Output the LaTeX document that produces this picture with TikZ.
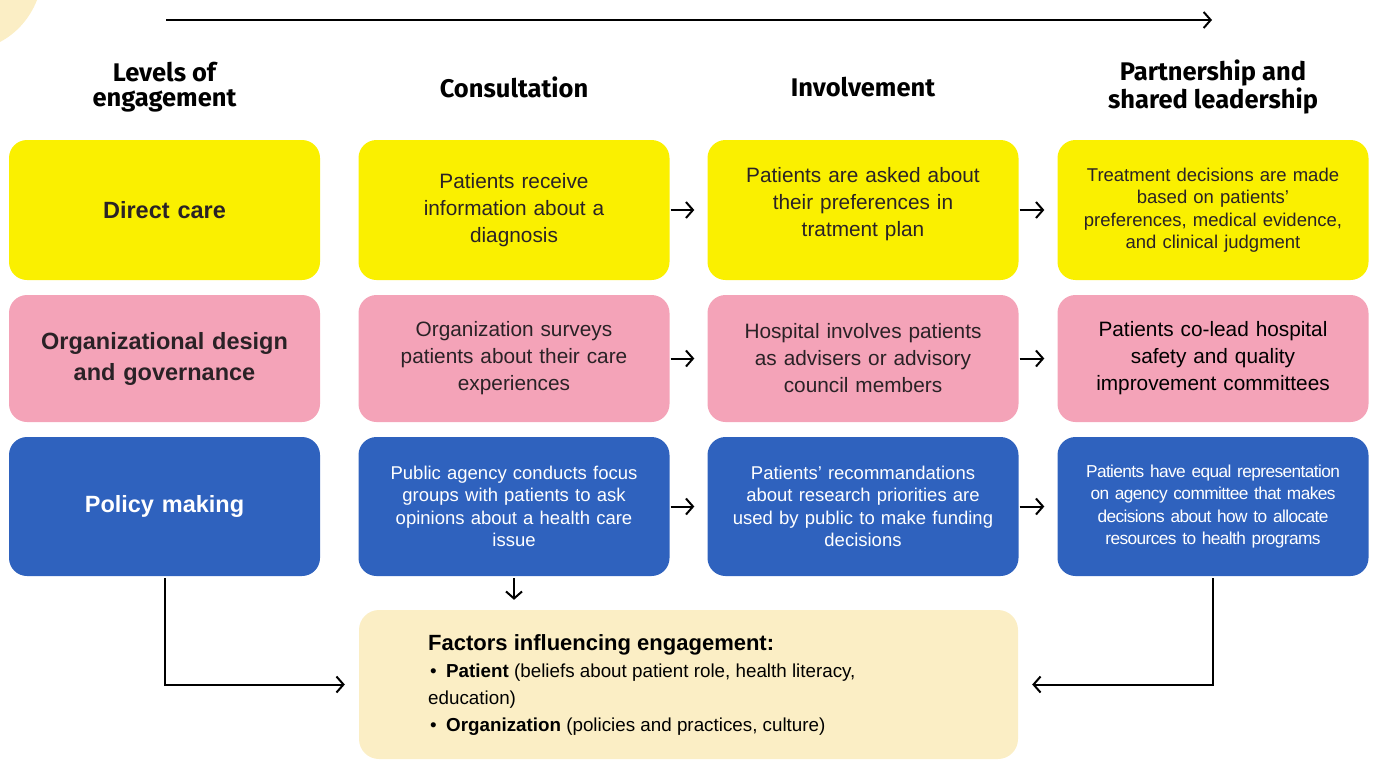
\documentclass[tikz,border=0pt]{standalone}
\usepackage{fontspec}
\setmainfont{Liberation Sans}
\newfontfamily\headfont{Fira Sans}
\usetikzlibrary{arrows.meta}

\definecolor{celly}{HTML}{FAF000}
\definecolor{cellp}{HTML}{F4A3B8}
\definecolor{cellb}{HTML}{2F62BE}
\definecolor{cream}{HTML}{FBEEC5}
\definecolor{ink}{HTML}{2A2226}

\tikzset{
  cell/.style={rounded corners=18pt, minimum width=311pt, text width=300pt,
    align=center, inner sep=0pt, text=ink},
  rowa/.style={cell, fill=celly, minimum height=140pt},
  rowb/.style={cell, fill=cellp, minimum height=127pt},
  rowc/.style={cell, fill=cellb, minimum height=139pt, text=white},
  lev/.style={font=\fontsize{23.5}{31}\selectfont\bfseries},
  txt/.style={font=\fontsize{20.8}{27}\selectfont},
  txtsm/.style={font=\fontsize{18.5}{22.5}\selectfont},
  head/.style={font=\headfont\fontsize{25.5}{25}\selectfont\bfseries, align=center},
  arr/.style={-{Straight Barb[length=7pt,width=16pt]}, line width=2pt, black},
}

\begin{document}
\begin{tikzpicture}[x=1pt,y=-1pt]
    \useasboundingbox (0,0) rectangle (1375,760);
    \fill[cream] (0,0) -- (37,0) .. controls (30,18) and (17,33) .. (0,42) -- cycle;

    % progression arrow
    \coordinate (topL) at (166,20);
    \coordinate (topR) at (1212,20);
    \draw[arr] (topL) -- (topR);

    % column headings
    \node[head] (hLev) at (164.5,87) {Levels of\\engagement};
    \node[head] (hCons) at (514,87) {Consultation};
    \node[head] (hInv) at (863,87) {Involvement};
    \node[head] (hPart) at (1213,87) {Partnership and\\shared leadership};

    % direct care
    \node[rowa, lev] (dcLev) at (164.5,210) {Direct care};
    \node[rowa, txt] (dcCons) at (514,210) {Patients receive\\information about a\\diagnosis};
    \node[rowa, label={[txt, text=ink, text width=300pt, align=center, yshift=6pt]center:{Patients are asked about\\their preferences in\\tratment plan}}] (dcInv) at (863,210) {};
    \node[rowa, txtsm] (dcPart) at (1213,210) {Treatment decisions are made\\based on patients'\\preferences, medical evidence,\\and clinical judgment};

    % organizational design
    \node[rowb, lev] (odLev) at (164.5,358.5) {Organizational design\\and governance};
    \node[rowb, txt] (odCons) at (514,358.5) {Organization surveys\\patients about their care\\experiences};
    \node[rowb, txt] (odInv) at (863,358.5) {Hospital involves patients\\as advisers or advisory\\council members};
    \node[rowb, txt, text=black] (odPart) at (1213,358.5) {Patients co-lead hospital\\safety and quality\\improvement committees};

    % policy making
    \node[rowc, lev] (pmLev) at (164.5,506.5) {Policy making};
    \node[rowc, txtsm] (pmCons) at (514,506.5) {Public agency conducts focus\\groups with patients to ask\\opinions about a health care\\issue};
    \node[rowc, txtsm] (pmInv) at (863,506.5) {Patients' recommandations\\about research priorities are\\used by public to make funding\\decisions};
    \node[rowc, txtsm, font=\fontsize{17.3}{22.5}\selectfont\addfontfeature{LetterSpace=-3.5}] (pmPart) at (1213,506.5) {Patients have equal representation\\on agency committee that makes\\decisions about how to allocate\\resources to health programs};

    % factors
    \node[fill=cream, rounded corners=20pt, minimum width=659pt, minimum height=149pt, inner sep=0pt] (fact) at (688.5,684.5) {};
    \node[anchor=north west, align=left, inner sep=0pt, text=black, font=\fontsize{18.8}{27}\selectfont] (factTxt) at (428,634) {%
      {\fontsize{22}{27}\selectfont\bfseries Factors influencing engagement:}\\
      \hspace*{2pt}\textbullet\enspace\textbf{Patient} (beliefs about patient role, health literacy,\\
      education)\\
      \hspace*{2pt}\textbullet\enspace\textbf{Organization} (policies and practices, culture)};

    % arrows between cells
    \foreach \a/\b in {dcCons/dcInv, dcInv/dcPart, odCons/odInv, odInv/odPart, pmCons/pmInv, pmInv/pmPart}
      \draw[arr, shorten <=1pt, shorten >=13pt] (\a.east) -- (\b.west |- \a.east);

    \draw[arr, shorten <=2pt, shorten >=10pt] (pmCons.south) -- (fact.north -| pmCons.south);
    \draw[arr, shorten <=2pt, shorten >=14pt] (pmLev.south) |- (fact.west);
    \draw[arr, shorten <=2pt, shorten >=14pt] (pmPart.south) |- (fact.east);
\end{tikzpicture}
\end{document}
